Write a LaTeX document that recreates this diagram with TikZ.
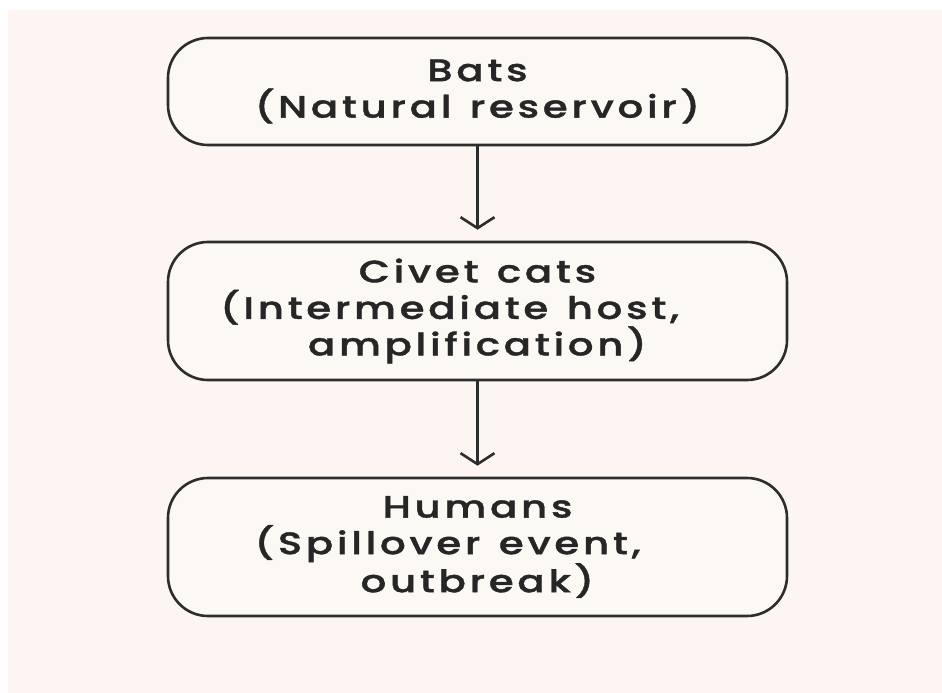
\documentclass[tikz,border=0pt]{standalone}
\usepackage{fontspec}
\setmainfont{Poppins Medium}[FakeStretch=1.3, FakeBold=1.2, LetterSpace=12, WordSpace=1.3]
\usepackage{xcolor}
\usetikzlibrary{arrows.meta,positioning}
\definecolor{bgpink}{RGB}{252,245,241}
\definecolor{boxfill}{RGB}{252,249,245}
\definecolor{edge}{RGB}{45,45,45}
\tikzset{
  hostbox/.style={draw=edge, line width=2.6pt, fill=boxfill, rounded corners=40pt,
    minimum width=619pt, align=center, inner sep=0pt, text=black!85,
    font=\fontsize{31}{36.5}\selectfont},
  flowarrow/.style={-{Straight Barb[length=11pt,width=34pt,line width=2.6pt]}, line width=2.6pt, edge, shorten >=11pt},
}

\begin{document}
\begin{tikzpicture}[x=1pt,y=-1pt]
\fill[white] (0,0) rectangle (942,693);
\fill[bgpink] (8,10) rectangle (942,693);
\useasboundingbox (0,0) rectangle (942,693);
\node[hostbox, minimum height=107pt] (bats) at (477.5,91.5) {Bats\\(Natural reservoir)};
\node[hostbox, minimum height=138pt] (civet) at (477.5,311) {Civet cats\\(Intermediate host,\rule{56pt}{0pt}\\amplification)};
\node[hostbox, minimum height=138pt] (humans) at (477.5,547) {Humans\\(Spillover event,\rule{60pt}{0pt}\\outbreak)};
\draw[flowarrow] (bats) -- (civet);
\draw[flowarrow] (civet) -- (humans);
\end{tikzpicture}
\end{document}
